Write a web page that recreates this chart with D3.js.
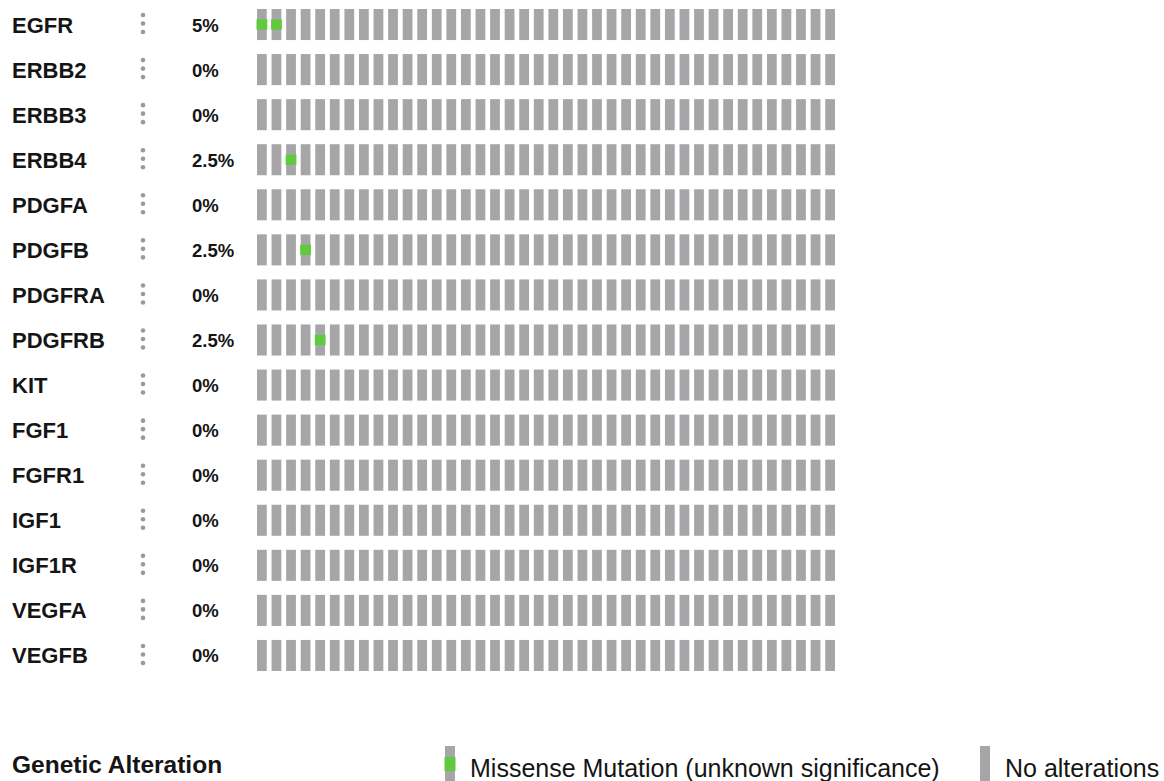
<!DOCTYPE html>
<html>
<head>
<meta charset="utf-8">
<script src="https://cdn.jsdelivr.net/npm/d3@7"></script>
<style>
  body { margin: 0; background: #fff; }
  svg { display: block; font-family: "Liberation Sans", Arial, sans-serif; }
</style>
</head>
<body>
<svg id="chart" width="1164" height="781"></svg>
<script>
// Genes shown as rows (top to bottom)
const genes = ["EGFR", "ERBB2", "ERBB3", "ERBB4", "PDGFA", "PDGFB", "PDGFRA",
  "PDGFRB", "KIT", "FGF1", "FGFR1", "IGF1", "IGF1R", "VEGFA", "VEGFB"];

// 40 samples in the cohort
const sampleCount = 40;
const samples = d3.range(sampleCount);

// Missense mutations (unknown significance): gene + sample column
const mutGenes   = ["EGFR", "EGFR", "ERBB4", "PDGFB", "PDGFRB"];
const mutSamples = [0, 1, 2, 3, 4];

// Legend entries
const legendLabels = ["Missense Mutation (unknown significance)", "No alterations"];

const GRAY = "#a6a6a9";
const GREEN = "#5fca3e";
const TEXT = "#151515";

const svg = d3.select("#chart");

const x = d3.scaleBand().domain(samples).range([257, 835]).paddingInner(0.33).paddingOuter(0);
const y = d3.scaleBand().domain(genes).range([9, 671]).paddingInner(0.311).paddingOuter(0);

const mutations = mutGenes.map((g, i) => ({ gene: g, sample: mutSamples[i] }));

// Altered fraction per gene
function pctLabel(gene) {
  const n = new Set(mutations.filter(m => m.gene === gene).map(m => m.sample)).size;
  const p = n / sampleCount * 100;
  return `${+p.toFixed(1)}%`;
}

//==========================================
// Row labels
//==========================================
const rows = svg.selectAll(".row")
  .data(genes)
  .enter().append("g")
  .attr("class", "row")
  .attr("transform", d => `translate(0,${y(d) + y.bandwidth() / 2})`);

rows.append("text")
  .attr("x", 12)
  .attr("dy", 8)
  .style("font-size", "22px")
  .style("font-weight", "bold")
  .style("fill", TEXT)
  .text(d => d);

// little three-dot menu
rows.each(function () {
  d3.select(this).selectAll("circle")
    .data([-8.5, 0, 8.5])
    .enter().append("circle")
    .attr("cx", 143)
    .attr("cy", d => d - 1)
    .attr("r", 2.3)
    .style("fill", "#9a9a9a");
});

rows.append("text")
  .attr("x", 192)
  .attr("dy", 7)
  .style("font-size", "18.5px")
  .style("font-weight", "bold")
  .style("fill", TEXT)
  .text(d => pctLabel(d));

//==========================================
// Oncoprint cells
//==========================================
const cells = [];
genes.forEach(g => samples.forEach(s => cells.push({ gene: g, sample: s })));

svg.append("g").selectAll("rect")
  .data(cells)
  .enter().append("rect")
  .attr("x", d => x(d.sample))
  .attr("y", d => y(d.gene))
  .attr("width", x.bandwidth())
  .attr("height", y.bandwidth())
  .style("fill", GRAY);

const mutH = y.bandwidth() / 3;
svg.append("g").selectAll("rect")
  .data(mutations)
  .enter().append("rect")
  .attr("x", d => x(d.sample) - 0.5)
  .attr("y", d => y(d.gene) + y.bandwidth() / 2 - mutH / 2)
  .attr("width", x.bandwidth() + 1)
  .attr("height", mutH)
  .style("fill", GREEN);

//==========================================
// Legend
//==========================================
svg.append("text")
  .attr("x", 12)
  .attr("y", 773)
  .style("font-size", "24.5px")
  .style("font-weight", "bold")
  .style("fill", TEXT)
  .text("Genetic Alteration");

const legendX = [445, 980];
const legend = svg.selectAll(".legend")
  .data(legendLabels)
  .enter().append("g")
  .attr("class", "legend")
  .attr("transform", (d, i) => `translate(${legendX[i]},0)`);

legend.append("rect")
  .attr("x", 0)
  .attr("y", 746)
  .attr("width", 10)
  .attr("height", 35)
  .style("fill", GRAY);

legend.filter((d, i) => i === 0).append("rect")
  .attr("x", -0.5)
  .attr("y", 757)
  .attr("width", 11)
  .attr("height", 14)
  .style("fill", GREEN);

legend.append("text")
  .attr("x", 25)
  .attr("y", 777)
  .style("font-size", "25px")
  .style("fill", TEXT)
  .text(d => d);
</script>
</body>
</html>
